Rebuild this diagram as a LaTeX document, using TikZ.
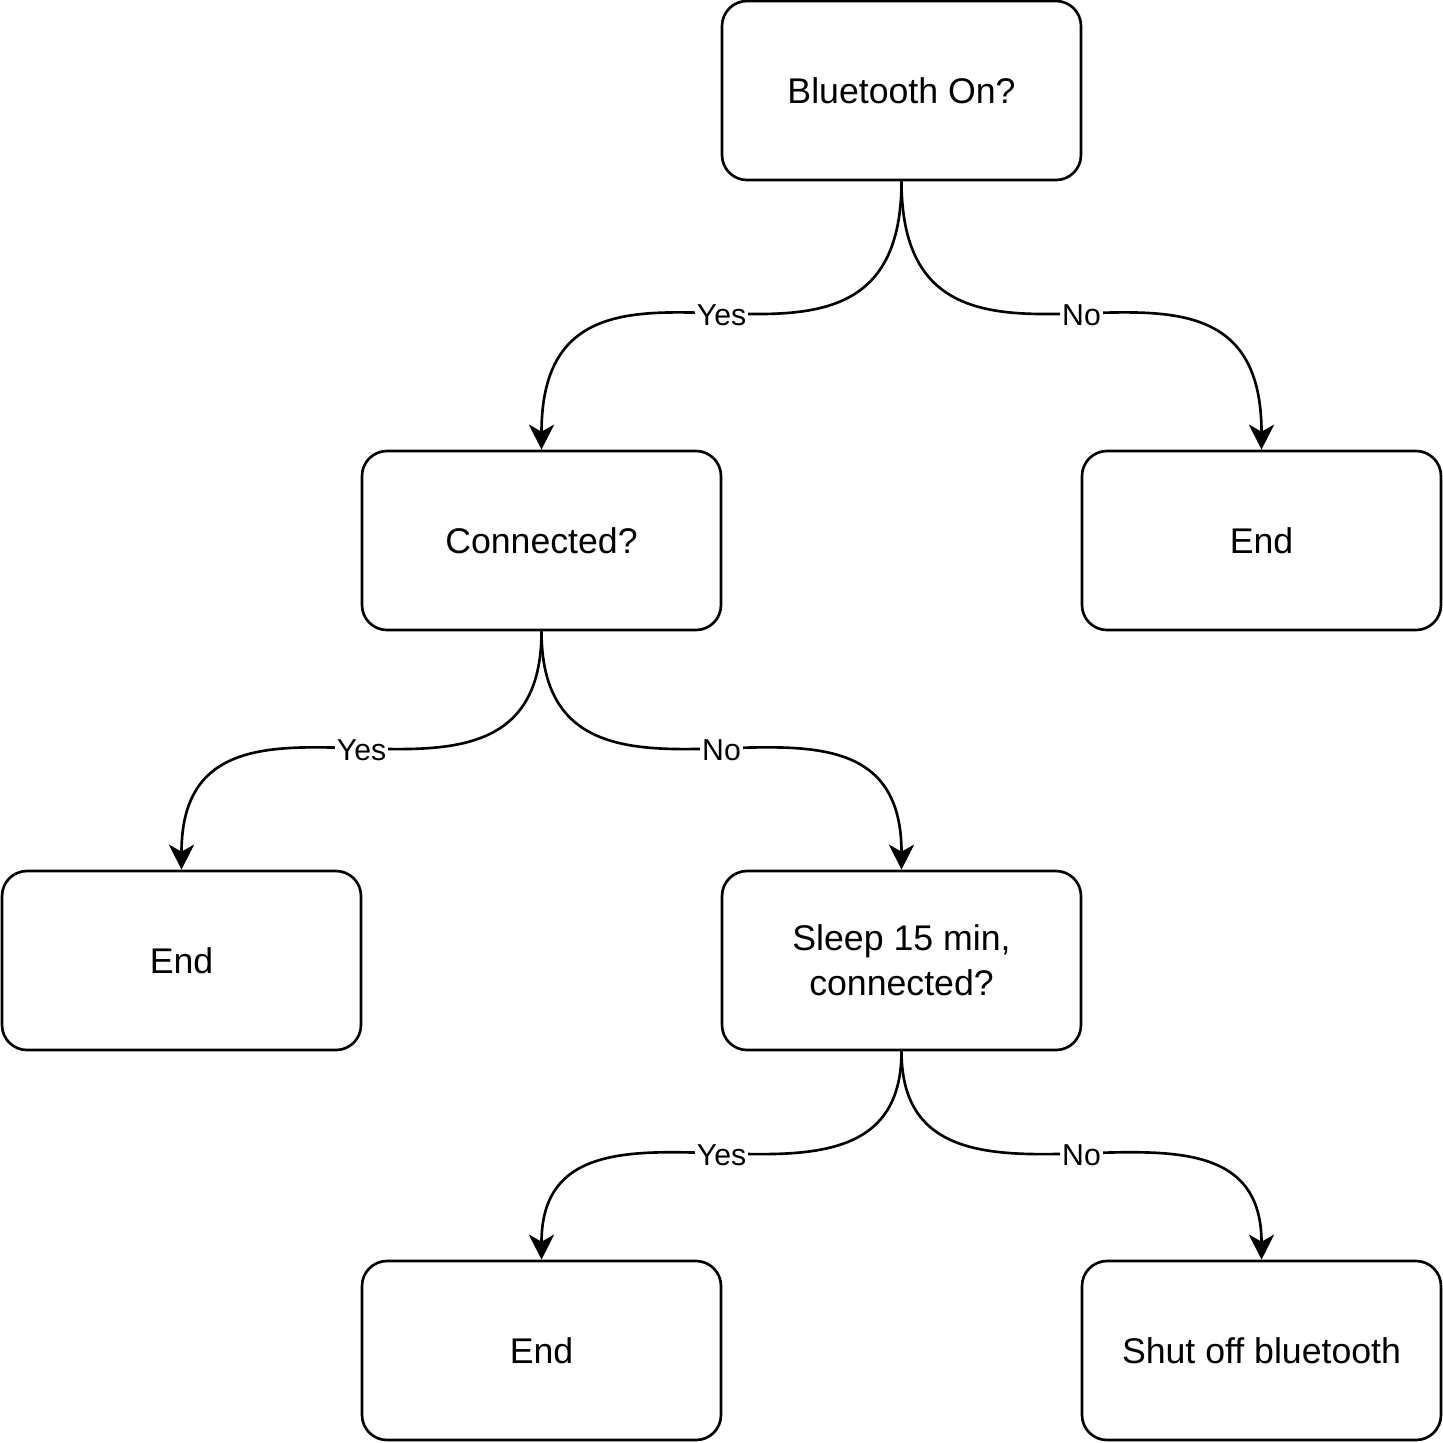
\documentclass[tikz,border=0pt]{standalone}
\usepackage{fontspec}
\setmainfont{Liberation Sans}
\usepackage{tikz}
\usetikzlibrary{arrows.meta}

\begin{document}
\begin{tikzpicture}[
		box/.style={shape=rectangle, draw, line width=0.75pt, rounded corners=0.25cm, minimum width=3.59cm, minimum height=1.79cm, inner sep=0pt, align=center, font=\fontsize{10.15}{12.8}\selectfont},
		edge/.style={line width=0.75pt, -{Stealth[length=0.25cm, width=0.25cm, inset=0.07cm]}},
		lbl/.style={fill=white, inner sep=0.5pt, font=\fontsize{8.6}{10}\selectfont}]
		\useasboundingbox (0, 0) rectangle (14.43, -14.43);
		% Boxes and curved edges:
		\node[box](N1) at (9.015, -0.905){Bluetooth On?};
		\node[box](N2) at (5.415, -5.405){Connected?};
		\node[box](N3) at (12.615, -5.405){End};
		\node[box](N4) at (1.815, -9.605){End};
		\node[box](N5) at (9.015, -9.605){Sleep 15 min,\\ connected?};
		\node[box](N6) at (5.415, -13.505){End};
		\node[box](N7) at (12.615, -13.505){Shut off bluetooth};
		\draw[edge] (N1.south) .. controls +(0, -2.71) and +(0, 2.71) .. node[lbl]{Yes} (N2.north);
		\draw[edge] (N1.south) .. controls +(0, -2.71) and +(0, 2.71) .. node[lbl]{No} (N3.north);
		\draw[edge] (N2.south) .. controls +(0, -2.41) and +(0, 2.41) .. node[lbl]{Yes} (N4.north);
		\draw[edge] (N2.south) .. controls +(0, -2.41) and +(0, 2.41) .. node[lbl]{No} (N5.north);
		\draw[edge] (N5.south) .. controls +(0, -2.11) and +(0, 2.11) .. node[lbl]{Yes} (N6.north);
		\draw[edge] (N5.south) .. controls +(0, -2.11) and +(0, 2.11) .. node[lbl]{No} (N7.north);
	\end{tikzpicture}
\end{document}
